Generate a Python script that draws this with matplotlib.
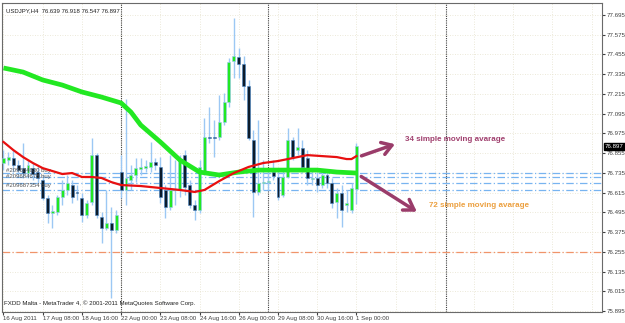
import numpy as np
import matplotlib
matplotlib.use('Agg')
import matplotlib.pyplot as plt
from matplotlib import transforms

plt.rcParams['font.family'] = ['Liberation Sans', 'DejaVu Sans']

# USDJPY H4 candles, 16 Aug 2011 00:00 .. 1 Sep 2011 00:00
opens = [76.795, 76.813, 76.825, 76.783, 76.764, 76.734, 76.764, 76.740, 76.691, 76.582,
         76.491, 76.497, 76.588, 76.631, 76.661, 76.619, 76.582, 76.479, 76.558, 76.844,
         76.467, 76.400, 76.430, 76.387, 76.740, 76.631, 76.691, 76.722, 76.758, 76.764,
         76.771, 76.801, 76.771, 76.631, 76.527, 76.631, 76.631, 76.844, 76.661, 76.539,
         76.509, 76.740, 76.953, 76.953, 76.953, 77.044, 77.166, 77.415, 77.440, 77.397,
         77.263, 76.935, 76.619, 76.673, 76.679, 76.740, 76.710, 76.600, 76.710, 76.935,
         76.874, 76.886, 76.825, 76.698, 76.704, 76.661, 76.722, 76.673, 76.558, 76.612,
         76.539, 76.509, 76.639]
highs = [76.874, 76.862, 76.874, 76.813, 76.917, 76.813, 76.795, 76.783, 76.722, 76.600,
         76.539, 76.600, 76.691, 76.722, 76.691, 76.661, 76.612, 76.570, 76.947, 76.856,
         76.497, 76.631, 76.527, 76.509, 76.844, 77.184, 76.783, 76.825, 76.825, 76.813,
         76.923, 76.825, 76.831, 76.661, 76.844, 76.813, 76.844, 76.874, 76.691, 76.570,
         76.813, 77.069, 77.135, 77.056, 77.208, 77.221, 77.433, 77.677, 77.494, 77.446,
         77.300, 76.996, 77.056, 76.813, 76.752, 76.813, 76.752, 76.752, 77.008, 76.953,
         77.008, 76.935, 76.874, 76.752, 76.740, 76.740, 76.740, 76.704, 76.643, 76.661,
         76.631, 76.673, 76.918]
lows = [76.752, 76.783, 76.740, 76.722, 76.704, 76.704, 76.691, 76.673, 76.570, 76.430,
        76.400, 76.479, 76.539, 76.600, 76.552, 76.570, 76.436, 76.460, 76.539, 76.460,
        76.308, 76.387, 75.974, 76.369, 76.582, 76.539, 76.631, 76.679, 76.722, 76.740,
        76.740, 76.752, 76.552, 76.460, 76.509, 76.539, 76.588, 76.600, 76.521, 76.448,
        76.491, 76.722, 76.917, 76.831, 76.935, 77.026, 77.135, 77.312, 77.312, 77.178,
        76.935, 76.467, 76.600, 76.631, 76.631, 76.691, 76.570, 76.588, 76.704, 76.813,
        76.844, 76.740, 76.661, 76.661, 76.619, 76.643, 76.643, 76.521, 76.460, 76.406,
        76.497, 76.491, 76.547]
closes = [76.825, 76.831, 76.783, 76.752, 76.734, 76.783, 76.728, 76.704, 76.582, 76.491,
          76.503, 76.588, 76.631, 76.673, 76.588, 76.612, 76.479, 76.552, 76.844, 76.479,
          76.400, 76.430, 76.387, 76.479, 76.631, 76.704, 76.722, 76.764, 76.771, 76.777,
          76.801, 76.783, 76.588, 76.527, 76.631, 76.637, 76.813, 76.649, 76.539, 76.509,
          76.771, 76.953, 76.950, 76.947, 77.044, 77.166, 77.409, 77.446, 77.397, 77.263,
          76.947, 76.619, 76.673, 76.679, 76.685, 76.716, 76.588, 76.710, 76.935, 76.831,
          76.892, 76.771, 76.704, 76.706, 76.661, 76.722, 76.673, 76.552, 76.612, 76.509,
          76.552, 76.643, 76.897]

# moving averages (bar index, value)
ma34_bars = [0, 2, 4, 6, 8, 10, 12, 14, 16, 18, 20, 22, 24, 28, 32, 36, 39, 41, 44, 47,
             50, 53, 56, 59, 62, 65, 68, 70, 71, 72]
ma34_vals = [76.923, 76.874, 76.831, 76.795, 76.764, 76.746, 76.728, 76.734, 76.710, 76.710,
             76.704, 76.679, 76.661, 76.655, 76.643, 76.631, 76.619, 76.631, 76.685, 76.734,
             76.771, 76.795, 76.807, 76.825, 76.843, 76.837, 76.831, 76.819, 76.819, 76.837]
ma72_bars = [0, 4, 8, 12, 16, 20, 24, 26, 28, 32, 36, 40, 44, 48, 52, 56, 60, 64, 68, 72]
ma72_vals = [77.373, 77.348, 77.300, 77.269, 77.227, 77.196, 77.160, 77.105, 77.026, 76.923,
             76.813, 76.740, 76.722, 76.740, 76.752, 76.752, 76.752, 76.752, 76.740, 76.734]

order_prices = [76.732, 76.712, 76.676, 76.631]
order_labels = ['#209684630 buy', '#209684678 buy', '#209687354 buy']
order_label_prices = [76.752, 76.716, 76.661]
stop_price = 76.255

price_ticks = [77.695, 77.575, 77.455, 77.335, 77.215, 77.095, 76.975, 76.855, 76.735,
               76.615, 76.495, 76.375, 76.255, 76.135, 76.015, 75.895]
date_bars = [0, 8, 16, 24, 32, 40, 48, 56, 64, 72]
date_labels = ['16 Aug 2011', '17 Aug 08:00', '18 Aug 16:00', '22 Aug 00:00', '23 Aug 08:00',
               '24 Aug 16:00', '26 Aug 00:00', '29 Aug 08:00', '30 Aug 16:00', '1 Sep 00:00']
week_bars = [24, 54, 90.2]

#%%
fig = plt.figure(figsize=(6.25, 3.23), dpi=100)
ax = fig.add_axes([2/625, 11/323, 600/625, 309/323])
ax.set_xlim(-0.3, 122.1)
ax.set_ylim(75.889, 77.768)

# grid
for p in price_ticks:
    ax.axhline(p, color='#e6e2cc', ls=(0, (1, 2)), lw=0.6, zorder=0)
for b in range(0, 123, 8):
    ax.axvline(b, color='#e6e2cc', ls=(0, (1, 2)), lw=0.6, zorder=0)
for b in week_bars:
    ax.axvline(b, color='#404040', ls=(0, (1, 1)), lw=0.8, zorder=1)

# order lines
for p in order_prices:
    ax.axhline(p, color='#78b4f0', ls=(0, (6, 2, 1, 2)), lw=0.9, zorder=1)
ax.axhline(stop_price, color='#f0946a', ls=(0, (6, 2, 1, 2)), lw=0.9, zorder=1)
for lab, p in zip(order_labels, order_label_prices):
    ax.text(0.6, p, lab, fontsize=4.3, color='#505050', va='center', ha='left', zorder=4)

# candles
idx = np.arange(len(opens))
o = np.array(opens); c = np.array(closes)
ax.vlines(idx, lows, highs, color='#9cc8f4', lw=1.0, zorder=2)
up = c >= o
ax.bar(idx[up], (c - o)[up], bottom=o[up], width=0.6, color='#22e822',
       edgecolor='#9cc8f4', lw=0.4, zorder=3)
ax.bar(idx[~up], (o - c)[~up], bottom=c[~up], width=0.6, color='#0c1c2c',
       edgecolor='#4a86c4', lw=0.4, zorder=3)

# moving averages
ax.plot(ma72_bars, ma72_vals, color='#22e822', lw=3.4, solid_capstyle='butt', zorder=5)
ax.plot(ma34_bars, ma34_vals, color='#e81010', lw=1.6, zorder=6)

# annotations
ax.annotate('', xy=(80.4, 76.915), xytext=(72.5, 76.833),
            arrowprops=dict(arrowstyle='->,head_length=0.7,head_width=0.45', color='#9a3c6a', lw=2.5))
ax.annotate('', xy=(84.8, 76.490), xytext=(72.5, 76.722),
            arrowprops=dict(arrowstyle='->,head_length=0.7,head_width=0.45', color='#9a3c6a', lw=2.5))
ax.text(81.9, 76.935, '34 simple moving avarage', fontsize=5.8, fontweight='bold',
        color='#a0406e', va='center', ha='left')
ax.text(86.9, 76.539, '72 simple moving avarage', fontsize=5.8, fontweight='bold',
        color='#eca040', va='center', ha='left')

ax.text(0.006, 0.982, 'USDJPY,H4  76.639 76.918 76.547 76.897', transform=ax.transAxes,
        fontsize=4.3, color='#202020', va='top', ha='left')
ax.text(0.004, 0.028, 'FXDD Malta - MetaTrader 4, \u00a9 2001-2011 MetaQuotes Software Corp.',
        transform=ax.transAxes, fontsize=4.4, color='#202020', va='center', ha='left')

# axes
ax.yaxis.tick_right()
ax.set_yticks(price_ticks)
ax.set_yticklabels(['%.3f' % p for p in price_ticks])
ax.set_xticks(date_bars)
ax.set_xticklabels(date_labels, ha='left')
ax.tick_params(axis='y', labelsize=4.4, length=2, pad=1, colors='#404040')
ax.tick_params(axis='x', labelsize=4.4, length=2, pad=0.8, colors='#404040')
for s in ax.spines.values():
    s.set_color('#6a6a6a'); s.set_linewidth(0.8)

# last price box
tr = transforms.blended_transform_factory(ax.transAxes, ax.transData)
ax.text(1.005, closes[-1], '%.3f' % closes[-1], transform=tr, fontsize=4.4, color='white',
        va='center', ha='left', bbox=dict(boxstyle='square,pad=0.15', fc='black', ec='black'),
        zorder=10, clip_on=False)

fig.savefig('out.png', dpi=100, facecolor='white')
